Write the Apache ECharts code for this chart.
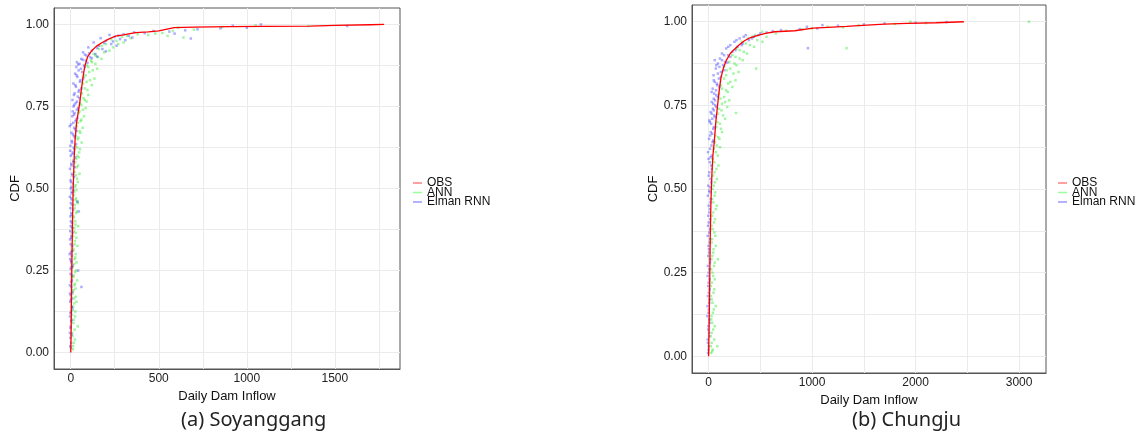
<!DOCTYPE html>
<html>
<head>
<meta charset="utf-8">
<title>CDF of daily dam inflow</title>
<script src="https://cdn.jsdelivr.net/npm/echarts@6.0.0/dist/echarts.min.js"></script>
<style>
  html, body { margin: 0; padding: 0; background: #fff; }
  #chart { width: 1145px; height: 438px; }
</style>
</head>
<body>
<div id="chart"></div>
<script>
// ---- data: [inflow, cdf] ----
const seriesNames = ['OBS', 'ANN', 'Elman RNN'];
const captions = ['(a) Soyanggang', '(b) Chungju'];

// (a) Soyanggang
const soyObs = [[0,0],[2,0.05],[3,0.1],[4,0.15],[5,0.2],[6,0.25],[7,0.3],[9,0.35],[10,0.4],[12,0.45],[14,0.5],[17,0.55],[20,0.6],[25,0.65],[33,0.7],[42,0.73],[51,0.76],[60,0.8],[70,0.84],[80,0.873],[95,0.9],[118,0.919],[145,0.933],[176,0.944],[215,0.955],[252,0.964],[300,0.968],[367,0.975],[440,0.977],[500,0.98],[540,0.985],[587,0.99],[700,0.992],[900,0.993],[1100,0.994],[1360,0.995],[1500,0.997],[1700,0.999],[1780,1.0]];
const soyAnn = [[12,0.01],[18,0.03],[10,0.05],[22,0.07],[40,0.08],[15,0.09],[25,0.11],[12,0.13],[20,0.15],[28,0.17],[16,0.19],[24,0.21],[14,0.23],[30,0.25],[19,0.27],[26,0.29],[13,0.31],[22,0.33],[32,0.35],[18,0.37],[27,0.39],[15,0.41],[35,0.43],[23,0.45],[38,0.46],[30,0.47],[20,0.49],
  [14,0.02],[24,0.04],[9,0.06],[17,0.1],[8,0.115],[26,0.125],[14,0.14],[33,0.155],[19,0.165],[11,0.18],[27,0.195],[21,0.205],[36,0.22],[17,0.235],[25,0.245],[12,0.26],[33,0.275],[21,0.285],[28,0.3],[16,0.315],[38,0.325],[24,0.34],[14,0.355],[29,0.365],[20,0.38],[42,0.385],[25,0.4],[17,0.415],[31,0.425],[22,0.44],[40,0.455],[27,0.465],[18,0.48],[33,0.495],
  [28,0.51],[36,0.53],[22,0.55],[42,0.57],[30,0.59],[38,0.6],[48,0.61],[26,0.63],[40,0.65],[55,0.67],[34,0.69],[60,0.71],[45,0.73],[70,0.74],
  [24,0.505],[40,0.52],[30,0.54],[50,0.545],[35,0.565],[26,0.58],[45,0.595],[52,0.62],[36,0.625],[62,0.64],[44,0.655],[30,0.66],[50,0.675],[68,0.685],[40,0.7],[56,0.705],[75,0.72],[50,0.735],[85,0.745],
  [52,0.76],[80,0.77],[62,0.79],[95,0.8],[70,0.82],[110,0.83],[85,0.845],[125,0.86],[100,0.87],[140,0.88],[115,0.89],[155,0.9],
  [60,0.755],[90,0.765],[72,0.775],[100,0.785],[58,0.79],[80,0.805],[120,0.815],[90,0.825],[135,0.835],[75,0.84],[105,0.855],[150,0.865],[92,0.875],[120,0.885],[175,0.895],
  [130,0.91],[190,0.915],[160,0.925],[240,0.93],[200,0.94],[300,0.945],[260,0.95],[340,0.958],[640,0.96],[290,0.962],[550,0.965],[440,0.968],[380,0.97],
  [140,0.905],[220,0.92],[175,0.935],[270,0.94],[230,0.955],[320,0.965],
  [480,0.972],[520,0.974],[580,0.98],[700,0.984],[610,0.99],[860,0.992],[1350,0.995],[1050,0.997]];
const soyRnn = [[-3,0.02],[2,0.03],[-5,0.06],[0,0.08],[4,0.1],[-2,0.12],[6,0.14],[1,0.16],[-4,0.18],[3,0.2],[61,0.2],[7,0.22],[-1,0.24],[42,0.25],[5,0.26],[2,0.28],[-6,0.3],[8,0.31],[0,0.33],[4,0.35],[-3,0.37],[9,0.38],[1,0.4],[6,0.42],[46,0.43],[-2,0.44],[10,0.45],[38,0.46],[3,0.47],[7,0.49],[0,0.5],
  [1,0.015],[-2,0.045],[5,0.055],[-1,0.075],[3,0.095],[-4,0.11],[2,0.125],[8,0.135],[-3,0.155],[5,0.165],[0,0.175],[9,0.185],[-5,0.205],[2,0.215],[6,0.235],[-1,0.255],[11,0.265],[3,0.275],[-3,0.285],[7,0.295],[1,0.305],[10,0.325],[-4,0.345],[5,0.355],[12,0.365],[0,0.385],[8,0.395],[-2,0.415],[4,0.425],[13,0.435],[1,0.455],[9,0.465],[-5,0.475],[6,0.485],[15,0.495],
  [2,0.52],[10,0.54],[-4,0.56],[6,0.57],[15,0.58],[0,0.6],[12,0.61],[20,0.62],[-2,0.63],[8,0.64],[18,0.66],[4,0.67],[25,0.68],[-6,0.69],[14,0.7],[30,0.71],[9,0.72],[22,0.73],[35,0.74],[16,0.75],
  [5,0.505],[12,0.515],[-1,0.525],[18,0.535],[8,0.545],[22,0.565],[3,0.575],[14,0.585],[26,0.595],[10,0.605],[-3,0.615],[17,0.625],[30,0.635],[6,0.645],[24,0.655],[12,0.665],[33,0.675],[20,0.685],[2,0.695],[28,0.705],[38,0.715],[18,0.725],[11,0.735],[42,0.745],
  [28,0.76],[10,0.77],[40,0.78],[22,0.79],[48,0.8],[30,0.81],[15,0.82],[55,0.83],[38,0.84],[25,0.85],[65,0.855],[45,0.86],[32,0.87],[75,0.875],[50,0.88],[35,0.885],[85,0.89],[60,0.895],[110,0.9],
  [20,0.755],[35,0.765],[50,0.775],[18,0.785],[44,0.795],[60,0.805],[26,0.815],[52,0.825],[70,0.835],[33,0.845],[58,0.865],[80,0.87],[42,0.878],[95,0.883],[68,0.892],[120,0.897],
  [90,0.905],[140,0.91],[70,0.915],[120,0.92],[180,0.925],[100,0.93],[160,0.935],[230,0.94],[130,0.945],[200,0.95],[280,0.955],[682,0.957],[170,0.958],[250,0.962],[330,0.965],[220,0.968],[300,0.97],
  [150,0.902],[80,0.908],[105,0.912],[200,0.918],[150,0.928],[260,0.935],[190,0.943],[240,0.948],[310,0.952],[350,0.96],[270,0.966],
  [590,0.972],[420,0.973],[360,0.976],[560,0.978],[470,0.98],[650,0.982],[720,0.985],[850,0.988],[1000,0.99],[1570,0.995],[920,0.996],[1080,1.0]];

// (b) Chungju
const chjObs = [[0,0],[3,0.05],[6,0.1],[8,0.15],[10,0.2],[12,0.25],[14,0.3],[16,0.35],[19,0.4],[22,0.45],[27,0.5],[33,0.55],[42,0.6],[55,0.64],[70,0.7],[88,0.753],[105,0.8],[120,0.833],[142,0.86],[169,0.883],[210,0.905],[250,0.918],[300,0.932],[347,0.943],[400,0.952],[460,0.958],[550,0.965],[638,0.97],[832,0.973],[1010,0.981],[1200,0.984],[1333,0.986],[1527,0.99],[1700,0.993],[1916,0.995],[2200,0.997],[2466,1.0]];
const chjAnn = [[25,0.01],[40,0.02],[85,0.03],[30,0.04],[20,0.06],[45,0.08],[35,0.1],[28,0.12],[50,0.14],[38,0.16],[24,0.18],[55,0.2],[32,0.22],[44,0.24],[26,0.26],[60,0.28],[90,0.29],[36,0.3],[48,0.32],[30,0.34],[65,0.36],[40,0.38],[52,0.4],[34,0.42],[70,0.44],[46,0.46],[58,0.48],[38,0.5],
  [35,0.015],[22,0.03],[55,0.05],[30,0.07],[60,0.09],[26,0.11],[42,0.13],[70,0.15],[30,0.17],[48,0.19],[22,0.21],[60,0.23],[38,0.25],[52,0.27],[28,0.29],[45,0.31],[70,0.33],[34,0.35],[56,0.37],[28,0.39],[62,0.41],[44,0.43],[80,0.45],[36,0.47],[64,0.49],
  [62,0.52],[44,0.54],[75,0.56],[55,0.58],[90,0.6],[48,0.62],[80,0.63],[105,0.65],[65,0.66],[120,0.68],[85,0.7],[140,0.72],[265,0.727],[100,0.74],
  [50,0.51],[80,0.53],[58,0.55],[95,0.57],[40,0.59],[70,0.61],[110,0.625],[60,0.64],[92,0.655],[130,0.67],[75,0.685],[110,0.695],[160,0.71],[90,0.725],[125,0.735],[180,0.745],
  [160,0.76],[115,0.77],[185,0.79],[130,0.8],[210,0.82],[150,0.83],[240,0.845],[175,0.855],[460,0.86],[270,0.87],[200,0.88],[300,0.89],[230,0.9],
  [130,0.755],[200,0.765],[150,0.775],[100,0.785],[170,0.795],[230,0.805],[120,0.81],[190,0.815],[260,0.825],[170,0.84],[290,0.85],[210,0.86],[150,0.865],[250,0.875],[330,0.885],[260,0.895],
  [340,0.91],[270,0.92],[1333,0.921],[400,0.93],[320,0.94],[470,0.945],[380,0.95],[560,0.955],[450,0.96],[650,0.965],[520,0.97],
  [370,0.905],[300,0.915],[440,0.925],[360,0.935],[520,0.94],[420,0.955],
  [750,0.973],[900,0.977],[1000,0.98],[1300,0.983],[1150,0.985],[1450,0.99],[1800,0.993],[2100,0.996],[1950,1.0],[3095,1.0]];
const chjRnn = [[-5,0.01],[2,0.03],[-8,0.05],[4,0.07],[-2,0.09],[6,0.11],[0,0.13],[-10,0.15],[8,0.17],[3,0.19],[-4,0.21],[10,0.23],[1,0.25],[-7,0.27],[12,0.29],[5,0.31],[-1,0.33],[14,0.35],[7,0.37],[-5,0.39],[16,0.41],[9,0.43],[2,0.45],[20,0.47],[11,0.49],
  [0,0.02],[-6,0.04],[5,0.06],[-3,0.08],[9,0.1],[-12,0.12],[3,0.14],[6,0.16],[-6,0.18],[11,0.2],[0,0.22],[-9,0.24],[7,0.26],[13,0.28],[-3,0.3],[4,0.32],[10,0.34],[-8,0.36],[15,0.38],[2,0.4],[-2,0.42],[12,0.44],[18,0.46],[-6,0.48],[6,0.495],
  [-3,0.51],[18,0.53],[8,0.55],[25,0.57],[0,0.59],[30,0.6],[14,0.62],[38,0.64],[5,0.65],[22,0.67],[45,0.68],[12,0.7],[35,0.71],[55,0.72],[20,0.73],[42,0.74],[65,0.75],
  [14,0.505],[25,0.52],[2,0.54],[32,0.56],[12,0.58],[20,0.595],[-5,0.61],[28,0.63],[45,0.645],[15,0.66],[35,0.665],[52,0.685],[25,0.695],[8,0.705],[62,0.715],[30,0.725],[50,0.735],[75,0.745],
  [30,0.76],[50,0.77],[75,0.78],[40,0.8],[85,0.81],[60,0.82],[100,0.83],[48,0.84],[120,0.85],[70,0.86],[140,0.87],[90,0.875],[160,0.88],[60,0.885],[110,0.89],[190,0.9],
  [45,0.755],[62,0.765],[90,0.775],[55,0.785],[30,0.79],[72,0.795],[105,0.805],[80,0.815],[50,0.825],[120,0.835],[90,0.845],[150,0.855],[105,0.865],[75,0.87],[180,0.878],[130,0.885],[210,0.895],
  [130,0.905],[230,0.91],[170,0.92],[960,0.921],[280,0.925],[210,0.93],[330,0.935],[250,0.94],[390,0.945],[300,0.95],[440,0.955],[360,0.96],[500,0.965],
  [150,0.9],[260,0.915],[190,0.925],[320,0.93],[270,0.945],[420,0.95],[340,0.955],[480,0.96],
  [560,0.968],[620,0.972],[700,0.975],[880,0.978],[1050,0.98],[950,0.985],[1250,0.988],[1100,0.99],[1500,0.992],[1700,0.995],[2000,0.997],[2300,0.999]];

// axis ticks / grid lines
const cdfTicks = [0, 0.25, 0.5, 0.75, 1];
const cdfGrid = [0, 0.125, 0.25, 0.375, 0.5, 0.625, 0.75, 0.875, 1];
const soyTicks = [0, 500, 1000, 1500];
const soyGrid = [0, 250, 500, 750, 1000, 1250, 1500, 1750];
const chjTicks = [0, 1000, 2000, 3000];
const chjGrid = [0, 500, 1000, 1500, 2000, 2500, 3000];

const colors = { OBS: '#ff0000', ANN: 'rgba(0,230,0,0.45)', 'Elman RNN': 'rgba(0,0,255,0.4)' };
const legendColors = { OBS: '#ff8080', ANN: '#80ff80', 'Elman RNN': '#8080ff' };

const chart = echarts.init(document.getElementById('chart'));

function makeX(idx, min, max, ticks, grid) {
  return {
    gridIndex: idx, type: 'value', min: min, max: max,
    name: 'Daily Dam Inflow', nameLocation: 'middle', nameGap: 14,
    nameTextStyle: { fontSize: 13, color: '#111', fontFamily: 'Liberation Sans' },
    axisLine: { show: true, onZero: false, lineStyle: { color: '#555' } },
    axisTick: { show: false, customValues: grid },
    axisLabel: { customValues: ticks, fontSize: 12, color: '#222', margin: 4, fontFamily: 'Liberation Sans',
      formatter: v => String(v) },
    splitLine: { show: true, lineStyle: { color: '#ebebeb', width: 1 } }
  };
}
function makeY(idx) {
  return {
    gridIndex: idx, type: 'value', min: -0.05, max: 1.05,
    name: 'CDF', nameLocation: 'middle', nameGap: 32,
    nameTextStyle: { fontSize: 13, color: '#111', fontFamily: 'Liberation Sans' },
    axisLine: { show: true, onZero: false, lineStyle: { color: '#555' } },
    axisTick: { show: false, customValues: cdfGrid },
    axisLabel: { customValues: cdfTicks, fontSize: 12, color: '#222', margin: 5, fontFamily: 'Liberation Sans',
      formatter: v => v.toFixed(2) },
    splitLine: { show: true, lineStyle: { color: '#ebebeb', width: 1 } }
  };
}
function scatter(name, idx, data) {
  return {
    name: name, type: 'scatter', xAxisIndex: idx, yAxisIndex: idx,
    symbol: 'rect', symbolSize: 2.5, data: data, silent: true,
    itemStyle: { color: colors[name] }, z: 2
  };
}
function obsLine(idx, data) {
  return {
    name: 'OBS', type: 'line', xAxisIndex: idx, yAxisIndex: idx, data: data,
    showSymbol: false, symbol: 'none', silent: true,
    lineStyle: { color: colors.OBS, width: 1.3 }, itemStyle: { color: colors.OBS }, z: 3
  };
}
// one legend box per key row, so the rows can sit as tightly as in the picture
const legendRowTops = [172, 181.5, 191];
function legends(left) {
  return seriesNames.map((n, i) => ({
    left: left, top: legendRowTops[i], itemWidth: 9, itemHeight: 1.5,
    icon: 'rect', selectedMode: false,
    textStyle: { fontSize: 12, color: '#111', fontFamily: 'Liberation Sans' },
    data: [{ name: n, itemStyle: { color: legendColors[n] } }]
  }));
}

chart.setOption({
  animation: false,
  backgroundColor: '#fff',
  grid: [
    { left: 54, top: 8, width: 346, height: 361, show: true, borderColor: '#555', borderWidth: 1, outerBoundsMode: 'none' },
    { left: 692, top: 5, width: 354, height: 368, show: true, borderColor: '#555', borderWidth: 1, outerBoundsMode: 'none' }
  ],
  xAxis: [makeX(0, -95, 1870, soyTicks, soyGrid), makeX(1, -160, 3260, chjTicks, chjGrid)],
  yAxis: [makeY(0), makeY(1)],
  legend: legends(408).concat(legends(1053)),
  graphic: [
    { type: 'text', left: 259 - 78, top: 410, style: { text: captions[0], font: '20px "Noto Sans"', fill: '#222' } },
    { type: 'text', left: 910 - 58, top: 410, style: { text: captions[1], font: '20px "Noto Sans"', fill: '#222' } }
  ],
  series: [
    scatter('ANN', 0, soyAnn), scatter('Elman RNN', 0, soyRnn), obsLine(0, soyObs),
    scatter('ANN', 1, chjAnn), scatter('Elman RNN', 1, chjRnn), obsLine(1, chjObs)
  ]
});
</script>
</body>
</html>
